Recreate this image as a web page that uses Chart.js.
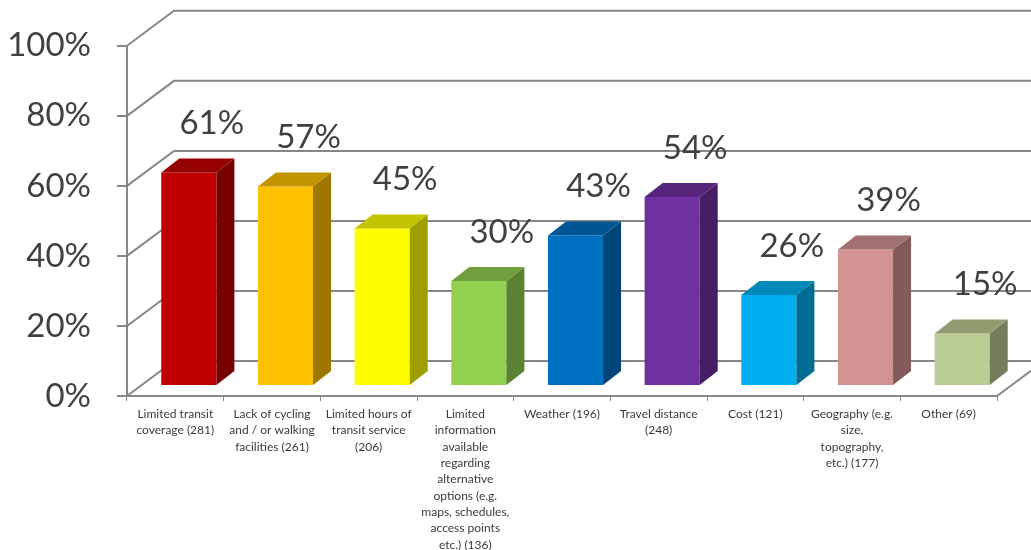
<!DOCTYPE html>
<html>
<head>
<meta charset="utf-8">
<title>Barriers</title>
<script src="https://cdn.jsdelivr.net/npm/chart.js@4.4.1/dist/chart.umd.min.js"></script>
<style>
  html, body { margin: 0; padding: 0; background: #fff; }
  #wrap { width: 1031px; height: 550px; position: relative; }
</style>
</head>
<body>
<div id="wrap"><canvas id="chart"></canvas></div>
<script>
// ── Data ────────────────────────────────────────────────
const categories = [
  ['Limited transit', 'coverage (281)'],
  ['Lack of cycling', 'and / or walking', 'facilities (261)'],
  ['Limited hours of', 'transit service', '(206)'],
  ['Limited', 'information', 'available', 'regarding', 'alternative', 'options (e.g.', 'maps, schedules,', 'access points', 'etc.) (136)'],
  ['Weather (196)'],
  ['Travel distance', '(248)'],
  ['Cost (121)'],
  ['Geography (e.g.', 'size,', 'topography,', 'etc.) (177)'],
  ['Other (69)']
];
const shares = [0.61, 0.57, 0.45, 0.30, 0.43, 0.54, 0.26, 0.39, 0.15];
const yTicks = [0, 0.2, 0.4, 0.6, 0.8, 1.0];

const barColors = ['#C00000', '#FFC000', '#FFFF00', '#92D050', '#0070C0',
                   '#7030A0', '#00B0F0', '#D29291', '#BBCC95'];

// ── 3D look ─────────────────────────────────────────────
const GRID  = '#878787';
const TEXT  = '#404040';
const WALL  = { dx: 47, dy: -35 };    // floor / back wall depth
const FACE  = { dx: 13.5, dy: -10 };  // bar front face pushed into depth
const DEPTH = { dx: 18, dy: -14 };    // bar thickness

function shade(hex, f) {
  const n = parseInt(hex.slice(1), 16);
  const r = Math.round(((n >> 16) & 255) * f);
  const g = Math.round(((n >> 8) & 255) * f);
  const b = Math.round((n & 255) * f);
  return `rgb(${r},${g},${b})`;
}

const wallPlugin = {
  id: 'wall3d',
  beforeDatasetsDraw(chart) {
    const { ctx, chartArea: a, scales: { y } } = chart;
    ctx.save();
    ctx.strokeStyle = GRID;
    ctx.lineWidth = 2;
    ctx.beginPath();
    yTicks.forEach(v => {
      const py = y.getPixelForValue(v);
      ctx.moveTo(a.left, py);
      ctx.lineTo(a.left + WALL.dx, py + WALL.dy);
      ctx.lineTo(a.right + WALL.dx + 60, py + WALL.dy);
    });
    // right edge of the floor
    const py0 = y.getPixelForValue(0);
    ctx.moveTo(a.right, py0);
    ctx.lineTo(a.right + WALL.dx, py0 + WALL.dy);
    ctx.stroke();
    ctx.restore();
  },
  beforeDatasetDraw(chart) {
    chart.ctx.save();
    chart.ctx.translate(FACE.dx, FACE.dy);
  },
  afterDatasetDraw(chart) {
    chart.ctx.restore();
  },
  afterDatasetsDraw(chart) {
    const { ctx } = chart;
    const bars = chart.getDatasetMeta(0).data;
    ctx.save();
    bars.forEach((bar, i) => {
      const { x, y, base, width } = bar.getProps(['x', 'y', 'base', 'width'], true);
      const l = x - width / 2 + FACE.dx, r = x + width / 2 + FACE.dx;
      const t = y + FACE.dy, b = base + FACE.dy;
      // side face
      ctx.fillStyle = shade(barColors[i], 0.62);
      ctx.beginPath();
      ctx.moveTo(r, t);
      ctx.lineTo(r + DEPTH.dx, t + DEPTH.dy);
      ctx.lineTo(r + DEPTH.dx, b + DEPTH.dy);
      ctx.lineTo(r, b);
      ctx.closePath();
      ctx.fill();
      // top face
      ctx.fillStyle = shade(barColors[i], 0.77);
      ctx.beginPath();
      ctx.moveTo(l, t);
      ctx.lineTo(l + DEPTH.dx, t + DEPTH.dy);
      ctx.lineTo(r + DEPTH.dx, t + DEPTH.dy);
      ctx.lineTo(r, t);
      ctx.closePath();
      ctx.fill();
      // value label
      ctx.fillStyle = TEXT;
      ctx.font = '33px Lato';
      ctx.textAlign = 'center';
      ctx.textBaseline = 'middle';
      ctx.fillText(Math.round(shares[i] * 100) + '%', x + FACE.dx + 23, t - 49);
    });
    ctx.restore();
  }
};

new Chart(document.getElementById('chart'), {
  type: 'bar',
  data: {
    labels: categories,
    datasets: [{
      data: shares,
      backgroundColor: barColors,
      borderWidth: 0,
      barPercentage: 0.57,
      categoryPercentage: 1
    }]
  },
  options: {
    responsive: true,
    maintainAspectRatio: false,
    animation: false,
    layout: { padding: { top: 45, right: 34, left: 0, bottom: 0 } },
    plugins: { legend: { display: false }, tooltip: { enabled: false } },
    scales: {
      x: {
        afterFit: s => { s.height = 154; },
        grid: { drawOnChartArea: false, drawTicks: true, tickLength: 5, tickColor: GRID, lineWidth: 1, offset: true },
        border: { display: true, color: GRID, width: 2 },
        ticks: {
          autoSkip: false, maxRotation: 0, minRotation: 0, padding: 5,
          color: '#3a3a3a', font: { family: 'Lato', size: 12, lineHeight: 1.36 }
        }
      },
      y: {
        min: 0, max: 1,
        afterFit: s => { s.width = 127; },
        afterBuildTicks: s => { s.ticks = yTicks.map(v => ({ value: v })); },
        grid: { drawOnChartArea: false, drawTicks: true, tickLength: 10, tickColor: GRID, lineWidth: 2 },
        border: { display: true, color: GRID, width: 2 },
        ticks: {
          padding: 26, color: TEXT, font: { family: 'Lato', size: 33 },
          callback: v => Math.round(v * 100) + '%'
        }
      }
    }
  },
  plugins: [wallPlugin]
});
</script>
</body>
</html>
